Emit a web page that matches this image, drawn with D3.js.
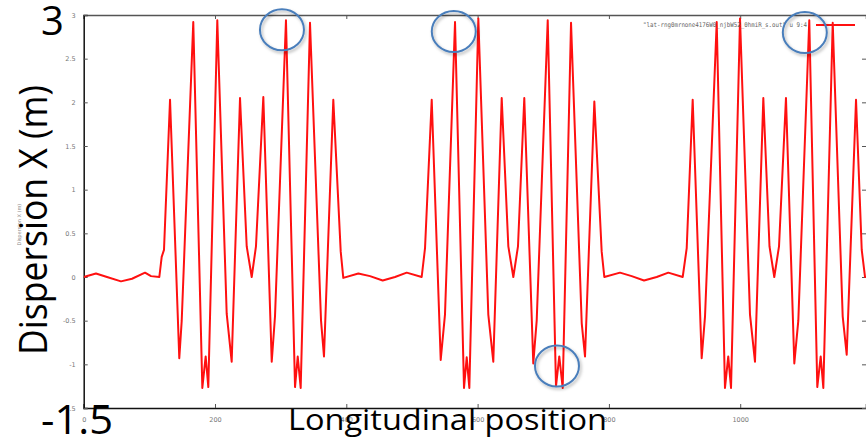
<!DOCTYPE html>
<html><head><meta charset="utf-8">
<script src="https://cdnjs.cloudflare.com/ajax/libs/d3/7.8.5/d3.min.js"></script>
<style>html,body{margin:0;padding:0;background:#fff;}svg{display:block;}</style>
</head><body>
<svg id="chart" width="866" height="440"></svg>
<script>
// ---- data ----
const positions = [0, 18.7, 35.5, 56.8, 73.6, 93.4, 102.5, 115.2, 118.8, 122.3,
  131.5, 145.6, 149.3, 166.9, 180.7, 185.8, 189.8, 203.5, 217.8, 225.4, 238.1, 248.3, 255.9, 262.4, 273.6, 286.4, 291.4, 308.1, 321.9, 326.0, 330.5, 344.7, 361.5, 366.0, 380.2, 391.5, 395.4,
  418.3, 436.1, 455.4, 474.2, 492.0, 514.8, 519.9,
  530.1, 543.8, 550.3, 565.6, 579.3, 583.4, 587.4, 601.1, 616.3, 623.9, 636.7, 646.8, 654.4, 661.5, 671.1, 684.8, 690.0, 706.8, 719.4, 724.4, 729.6, 742.3, 758.6, 763.6, 777.8, 789.0, 793.0,
  816.9, 834.7, 853.5, 872.8, 890.5, 912.4, 918.5,
  927.6, 941.3, 946.4, 964.2, 976.8, 981.8, 986.0, 999.7, 1014.9, 1022.5, 1035.2, 1044.6, 1051.9, 1059.1, 1069.7, 1082.4, 1088.5, 1105.2, 1117.4, 1122.6, 1126.6, 1140.9, 1156.1, 1162.2, 1176.4, 1185.1, 1190.1,
  1212.9];
const dispersionX = [0.00, 0.04, 0.00, -0.05, -0.02, 0.05, 0.01, 0.00, 0.23, 0.31,
  2.03, -0.93, -0.50, 2.92, -1.27, -0.91, -1.26, 2.94, -0.42, -0.97, 2.05, 0.35, 0.00, 0.35, 2.06, -0.97, -0.45, 2.94, -1.26, -0.91, -1.27, 2.91, -0.50, -0.91, 2.03, 0.29, -0.01,
  0.04, 0.01, -0.04, 0.00, 0.05, 0.00, 0.33,
  2.03, -0.95, -0.43, 2.92, -1.27, -0.92, -1.27, 2.96, -0.43, -0.97, 2.05, 0.35, 0.00, 0.35, 2.05, -0.99, -0.50, 2.94, -1.25, -0.91, -1.27, 2.91, -0.53, -0.91, 2.01, 0.29, 0.00,
  0.05, 0.01, -0.04, 0.00, 0.05, 0.00, 0.33,
  2.03, -0.93, -0.45, 2.92, -1.27, -0.91, -1.27, 2.96, -0.43, -0.97, 2.05, 0.35, 0.00, 0.35, 2.05, -0.99, -0.50, 2.94, -1.26, -0.91, -1.27, 2.91, -0.45, -0.89, 2.03, 0.31, 0.00,
  0.04];
const xTicks = [0, 200, 400, 600, 800, 1000];
const xTickLabels = ["0", "200", "400", "600", "800", "1000"];
const yTicks = [3, 2.5, 2, 1.5, 1, 0.5, 0, -0.5, -1, -1.5];
const yTickLabels = ["3", "2.5", "2", "1.5", "1", "0.5", "0", "-0.5", "-1", "-1.5"];
const legendLabel = "\"lat-rng0mrnone4176W0_njbW52_0hmiR_s.out\" u 9:4";
const highlightX = [302.0, 563.7, 720.9, 1098.4];
const highlightY = [2.83, 2.81, -1.02, 2.80];
const yTitle = "Dispersion X (m)";
const xTitle = "Longitudinal position";
const yMaxLabel = "3";
const yMinLabel = "-1.5";

// ---- layout ----
const svg = d3.select("#chart");
const L = 83.7, R = 866, T = 15, B = 408;
const x = d3.scaleLinear().domain([0, 1191.6]).range([L, R]);
const y = d3.scaleLinear().domain([-1.5, 3]).range([B, T]);

svg.append("rect").attr("width", 866).attr("height", 440).attr("fill", "#fff");

svg.append("defs").append("clipPath").attr("id", "clip")
  .append("rect").attr("x", L).attr("y", T - 2).attr("width", R - L).attr("height", B - T + 4);
const shadow = svg.select("defs").append("filter").attr("id", "sh")
  .attr("x", "-20%").attr("y", "-20%").attr("width", "150%").attr("height", "150%");
shadow.append("feDropShadow").attr("dx", 1.5).attr("dy", 2).attr("stdDeviation", 1.5)
  .attr("flood-color", "#000").attr("flood-opacity", 0.3);

// axes (gnuplot style, inward ticks)
const tickFmt = (arr, labels) => d => labels[arr.indexOf(d)];
const gx = svg.append("g").attr("transform", `translate(0,${B})`)
  .call(d3.axisBottom(x).tickValues(xTicks).tickSize(-4).tickPadding(9).tickFormat(tickFmt(xTicks, xTickLabels)));
const gxt = svg.append("g").attr("transform", `translate(0,${T})`)
  .call(d3.axisTop(x).tickValues(xTicks).tickSize(-4).tickFormat(""));
const gy = svg.append("g").attr("transform", `translate(${L},0)`)
  .call(d3.axisLeft(y).tickValues(yTicks).tickSize(-4).tickPadding(8).tickFormat(tickFmt(yTicks, yTickLabels)));
const gyr = svg.append("g").attr("transform", `translate(${R},0)`)
  .call(d3.axisRight(y).tickValues(yTicks).tickSize(-4).tickFormat(""));
[gx, gxt, gy, gyr].forEach(g => {
  g.selectAll("text").attr("fill", "#777").attr("font-family", "DejaVu Sans").attr("font-size", 6.5);
  g.selectAll(".tick line").attr("stroke", "#555").attr("stroke-width", 1);
});
gx.select(".domain").attr("stroke", "#111").attr("stroke-width", 1.5);
gy.select(".domain").attr("stroke", "#111").attr("stroke-width", 1.5);
gxt.select(".domain").attr("stroke", "#555").attr("stroke-width", 1.5);
gyr.select(".domain").remove();

// small gnuplot y label
svg.append("text").attr("transform", `translate(21,${y(0.6)}) rotate(-90)`)
  .attr("text-anchor", "middle").attr("font-family", "DejaVu Sans").attr("font-size", 5)
  .attr("fill", "#888").text(yTitle);

// data line
const pts = positions.map((p, i) => [p, dispersionX[i]]);
svg.append("path").datum(pts).attr("clip-path", "url(#clip)")
  .attr("fill", "none").attr("stroke", "#ff1010").attr("stroke-width", 2).attr("stroke-linejoin", "round")
  .attr("d", d3.line().x(d => x(d[0])).y(d => y(d[1])));

// legend
const lgY = 25;
svg.append("text").attr("x", 643).attr("y", lgY).attr("dy", "0.35em")
  .attr("textLength", 164).attr("lengthAdjust", "spacingAndGlyphs")
  .attr("font-family", "DejaVu Sans Mono").attr("font-size", 6.5).attr("fill", "#666").text(legendLabel);
svg.append("line").attr("x1", 816).attr("x2", 855).attr("y1", lgY).attr("y2", lgY)
  .attr("stroke", "#ff1010").attr("stroke-width", 2);

// highlight ellipses
svg.selectAll("ellipse.hl").data(highlightX).join("ellipse").attr("class", "hl")
  .attr("cx", d => x(d)).attr("cy", (d, i) => y(highlightY[i]))
  .attr("rx", 22).attr("ry", 20.5).attr("fill", "none")
  .attr("stroke", "#4a7ebb").attr("stroke-width", 2).attr("filter", "url(#sh)");

// large overlay labels
const big = "Open Sans";
svg.append("text").attr("x", 41).attr("y", 35).attr("font-family", big).attr("font-size", 40)
  .attr("fill", "#000").text(yMaxLabel);
svg.append("text").attr("x", 41).attr("y", 434).attr("font-family", big).attr("font-size", 40)
  .attr("textLength", 72).attr("lengthAdjust", "spacingAndGlyphs").attr("fill", "#000").text(yMinLabel);
svg.append("text").attr("x", 288).attr("y", 430).attr("font-family", big).attr("font-size", 29)
  .attr("textLength", 319).attr("lengthAdjust", "spacingAndGlyphs").attr("fill", "#000").text(xTitle);
svg.append("text").attr("transform", "translate(47,355) rotate(-90)")
  .attr("font-family", big).attr("font-size", 38)
  .attr("textLength", 270).attr("lengthAdjust", "spacingAndGlyphs").attr("fill", "#000").text(yTitle);
</script>
</body></html>
